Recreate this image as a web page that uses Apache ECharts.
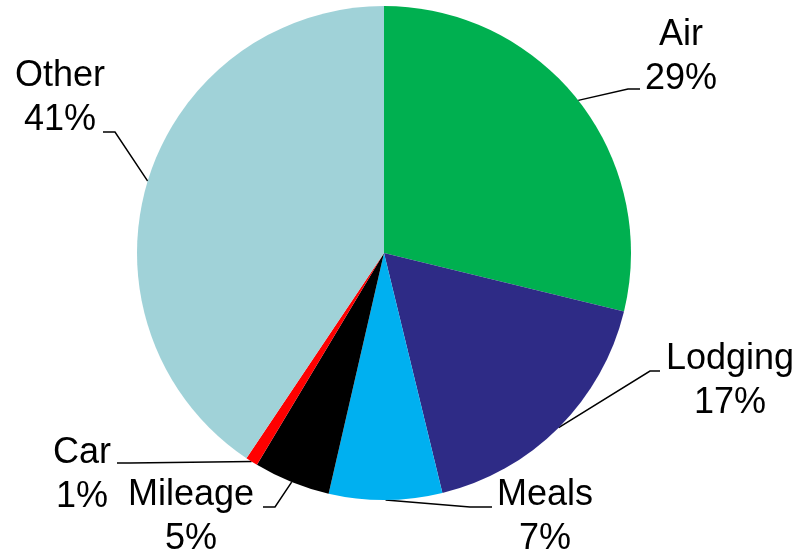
<!DOCTYPE html>
<html>
<head>
<meta charset="utf-8">
<script src="https://cdn.jsdelivr.net/npm/echarts@6/dist/echarts.min.js"></script>
<style>
html,body{margin:0;padding:0;background:#fff;}
#chart{width:801px;height:556px;}
</style>
</head>
<body>
<div id="chart"></div>
<script>
// Data
var categories = ['Air', 'Lodging', 'Meals', 'Mileage', 'Car', 'Other'];
var values = [28.8, 17.4, 7.4, 5.0, 0.8, 40.6];
var colors = ['#00B050', '#2E2B86', '#00B0F0', '#000000', '#FF0000', '#A0D2D8'];

// Label layout (label block centre, leader elbow, leader end)
var labelPos = [
  {x: 681, y: 57, elbow: [628, 89], end: [640, 89]},
  {x: 730, y: 381, elbow: [650, 371], end: [660, 371]},
  {x: 545, y: 517, elbow: [470, 507], end: [492, 507]},
  {x: 191, y: 517, elbow: [275, 507], end: [263, 507]},
  {x: 82, y: 475, elbow: [130, 463], end: [117, 463]},
  {x: 60, y: 98, elbow: [115, 132], end: [103, 132]}
];

var chart = echarts.init(document.getElementById('chart'), null, {renderer: 'canvas'});
var data = categories.map(function (c, i) {
  return {name: c, value: values[i], itemStyle: {color: colors[i]}};
});
chart.setOption({
  animation: false,
  backgroundColor: '#ffffff',
  series: [{
    type: 'pie',
    center: [384, 253],
    radius: 247,
    startAngle: 90,
    clockwise: true,
    avoidLabelOverlap: false,
    percentPrecision: 0,
    data: data,
    itemStyle: {borderWidth: 0},
    emphasis: {disabled: true},
    label: {
      show: true,
      position: 'outside',
      formatter: '{b}\n{d}%',
      fontFamily: 'Liberation Sans, Arial, sans-serif',
      fontSize: 36,
      lineHeight: 44,
      color: '#000000',
      align: 'center'
    },
    labelLine: {
      show: true,
      length: 10,
      length2: 10,
      smooth: false,
      lineStyle: {color: '#000000', width: 1.5}
    },
    labelLayout: function (params) {
      var p = labelPos[params.dataIndex];
      var start = params.labelLinePoints ? params.labelLinePoints[0] : p.elbow;
      return {
        x: p.x,
        y: p.y,
        align: 'center',
        verticalAlign: 'middle',
        labelLinePoints: [start, p.elbow, p.end]
      };
    }
  }]
});
</script>
</body>
</html>
